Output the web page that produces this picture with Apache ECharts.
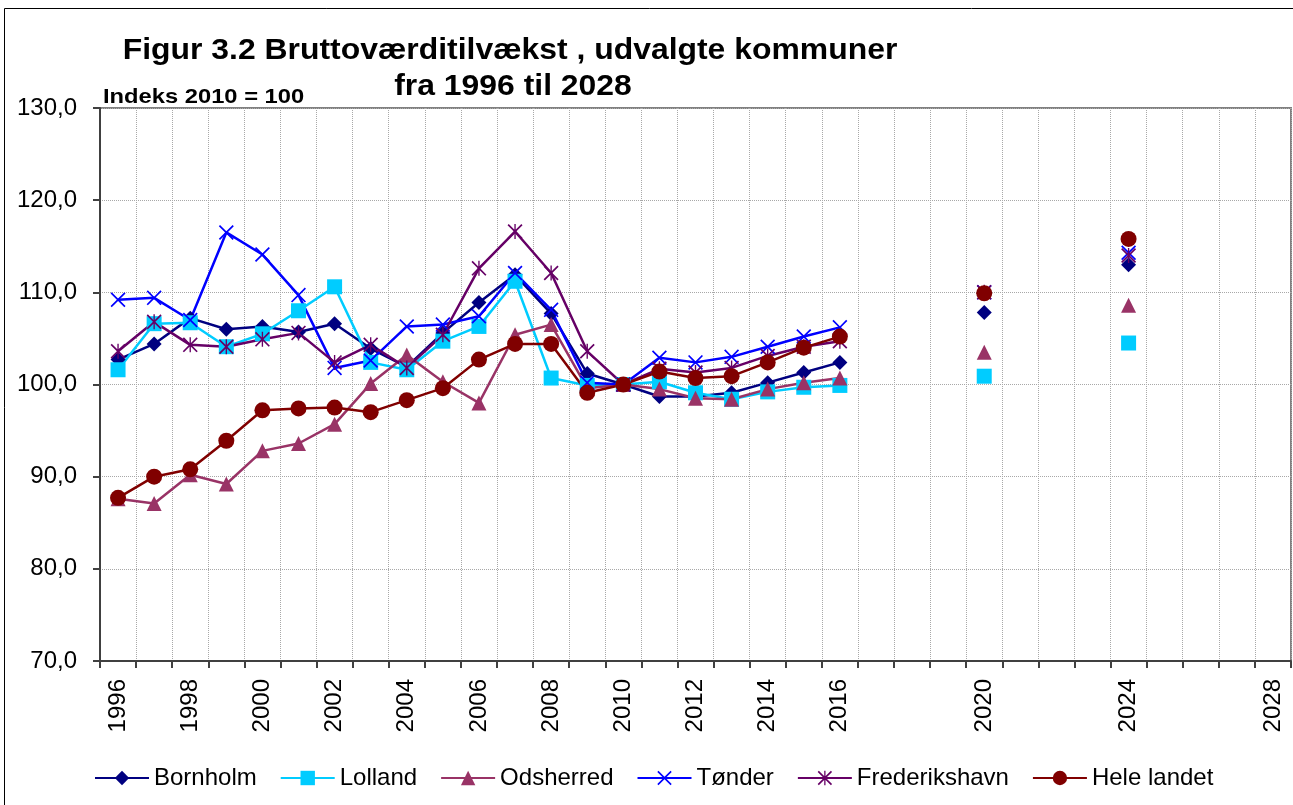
<!DOCTYPE html>
<html>
<head>
<meta charset="utf-8">
<script src="https://cdn.jsdelivr.net/npm/echarts@6/dist/echarts.min.js"></script>
<style>
  html, body { margin: 0; padding: 0; background: #fff; }
  #chart { width: 1293px; height: 805px; }
</style>
</head>
<body>
<div id="chart"></div>
<script>
// categories 1996..2028
var years = ['1996','1997','1998','1999','2000','2001','2002','2003','2004','2005','2006',
  '2007','2008','2009','2010','2011','2012','2013','2014','2015','2016','2017','2018',
  '2019','2020','2021','2022','2023','2024','2025','2026','2027','2028'];
// years that get a tick label
var labeledYears = ['1996','1998','2000','2002','2004','2006','2008','2010','2012','2014','2016','2020','2024','2028'];

var bornholm = [102.7,104.4,107.2,106.0,106.3,105.7,106.6,103.9,101.9,105.6,108.9,111.9,107.7,101.2,100,98.7,98.7,99.1,100.2,101.3,102.4,
  null,null,null,107.8,null,null,null,113.0,null,null,null,null];
var lolland = [101.6,106.6,106.7,104.1,105.5,108.0,110.6,102.4,101.6,104.7,106.3,111.2,100.7,99.9,100,100.3,99.1,98.4,99.2,99.7,99.9,
  null,null,null,100.9,null,null,null,104.5,null,null,null,null];
var odsherred = [87.6,87.1,90.2,89.2,92.8,93.6,95.7,100.1,103.2,100.3,98.0,105.4,106.5,99.6,100,99.5,98.5,98.4,99.5,100.2,100.7,
  null,null,null,103.5,null,null,null,108.6,null,null,null,null];
var tonder = [109.2,109.4,107.0,116.5,114.1,109.7,101.8,102.6,106.3,106.5,107.4,112.1,108.1,100.2,100,102.9,102.4,103.0,104.1,105.2,106.2,
  null,null,null,110.0,null,null,null,114.3,null,null,null,null];
var frederikshavn = [103.6,106.8,104.3,104.1,104.9,105.6,102.4,104.3,101.8,105.4,112.6,116.6,112.1,103.6,100,101.7,101.3,101.8,103.1,104.1,104.7,
  null,null,null,110.0,null,null,null,114.0,null,null,null,null];
var heleLandet = [87.7,90.0,90.8,93.9,97.2,97.4,97.5,97.0,98.3,99.6,102.7,104.4,104.4,99.1,100,101.4,100.7,100.9,102.4,104.0,105.2,
  null,null,null,109.9,null,null,null,115.8,null,null,null,null];

var FONT = '"Liberation Sans", Arial, sans-serif';
var xPath = 'path://M0,1.6L1.6,0L10,8.4L18.4,0L20,1.6L11.6,10L20,18.4L18.4,20L10,11.6L1.6,20L0,18.4L8.4,10Z';
var starPath = 'path://M0,1.6L1.6,0L10,8.4L18.4,0L20,1.6L11.6,10L20,18.4L18.4,20L10,11.6L1.6,20L0,18.4L8.4,10Z M9.1,0L10.9,0L10.9,20L9.1,20Z';

function mkSeries(name, data, color, symbol, size) {
  return {
    name: name,
    type: 'line',
    data: data,
    symbol: symbol,
    symbolSize: size,
    showAllSymbol: true,
    connectNulls: false,
    itemStyle: { color: color },
    lineStyle: { color: color, width: 2.5 },
    emphasis: { disabled: true }
  };
}

var chart = echarts.init(document.getElementById('chart'));
var option = {
  animation: false,
  graphic: [
    { type: 'rect', shape: { x: 4.5, y: 8.5, width: 1400, height: 900 },
      style: { fill: 'none', stroke: '#000', lineWidth: 1 } },
    { type: 'text', x: 510, y: 51, scaleX: 1.1,
      style: { text: 'Figur 3.2 Bruttoværditilvækst , udvalgte kommuner', fontSize: 29, fontWeight: 'bold',
        fontFamily: FONT, fill: '#000', align: 'center', verticalAlign: 'middle' } },
    { type: 'text', x: 513, y: 87, scaleX: 1.1,
      style: { text: 'fra 1996 til 2028', fontSize: 29, fontWeight: 'bold',
        fontFamily: FONT, fill: '#000', align: 'center', verticalAlign: 'middle' } },
    { type: 'text', x: 103, y: 97, scaleX: 1.13,
      style: { text: 'Indeks 2010 = 100', fontSize: 21, fontWeight: 'bold',
        fontFamily: FONT, fill: '#000', align: 'left', verticalAlign: 'middle' } }
  ],
  grid: {
    left: 100, right: 2, top: 108, bottom: 144,
    show: true, borderColor: '#808080', borderWidth: 2, backgroundColor: 'transparent'
  },
  legend: {
    bottom: 10,
    left: 89,
    itemWidth: 54,
    itemHeight: 18,
    itemGap: 23,
    textStyle: { fontSize: 24, fontFamily: FONT, color: '#000' },
    data: ['Bornholm', 'Lolland', 'Odsherred', 'Tønder', 'Frederikshavn', 'Hele landet']
  },
  xAxis: {
    type: 'category',
    data: years,
    boundaryGap: true,
    axisLine: { lineStyle: { color: '#404040', width: 2 } },
    axisTick: { show: true, interval: 0, length: 7, lineStyle: { color: '#404040', width: 2 } },
    axisLabel: {
      interval: function (i, v) { return labeledYears.indexOf(v) >= 0; },
      rotate: 90, margin: 18, fontSize: 24, fontFamily: FONT, color: '#000'
    },
    splitLine: { show: true, interval: 0, lineStyle: { type: 'dotted', color: '#a8a8a8', width: 1 } }
  },
  yAxis: {
    type: 'value',
    min: 70, max: 130, interval: 10,
    axisLine: { show: true, lineStyle: { color: '#404040', width: 2 } },
    axisTick: { show: true, length: 7, lineStyle: { color: '#404040', width: 2 } },
    axisLabel: {
      margin: 23, fontSize: 24, fontFamily: FONT, color: '#000',
      formatter: function (v) { return v.toFixed(1).replace('.', ','); }
    },
    splitLine: { show: true, lineStyle: { type: 'dotted', color: '#a8a8a8', width: 1 } }
  },
  series: [
    mkSeries('Bornholm', bornholm, '#000080', 'diamond', 15),
    mkSeries('Lolland', lolland, '#00CCFF', 'rect', 15),
    mkSeries('Odsherred', odsherred, '#993366', 'triangle', 15),
    mkSeries('Tønder', tonder, '#0000FF', xPath, 15),
    mkSeries('Frederikshavn', frederikshavn, '#660066', starPath, 15),
    mkSeries('Hele landet', heleLandet, '#800000', 'circle', 16)
  ]
};
chart.setOption(option);
</script>
</body>
</html>
